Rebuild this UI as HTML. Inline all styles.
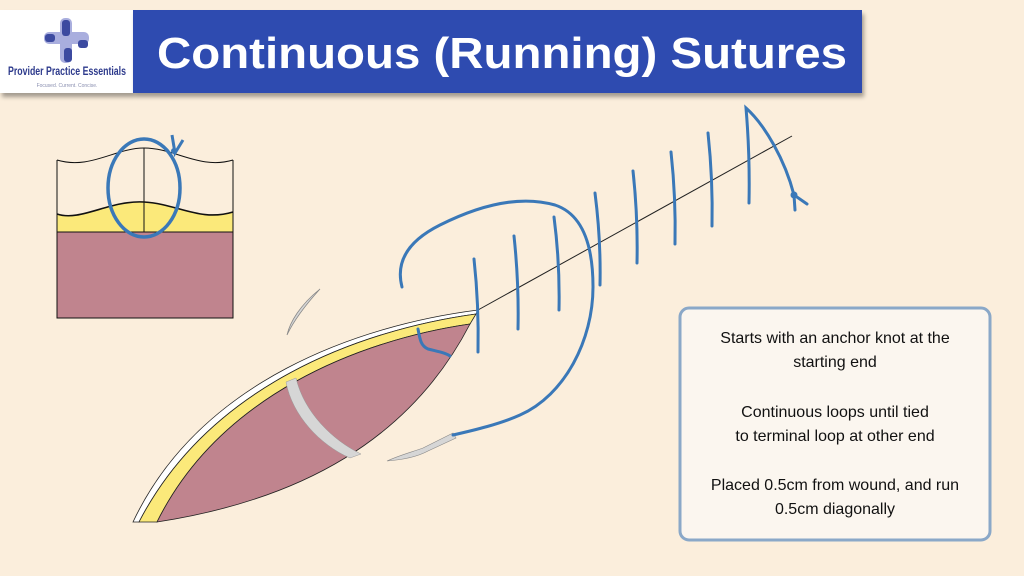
<!DOCTYPE html>
<html><head><meta charset="utf-8"><style>
html,body{margin:0;padding:0;background:#fbeedc;}
svg{display:block}
</style></head><body>
<svg width="1024" height="576" viewBox="0 0 1024 576" xmlns="http://www.w3.org/2000/svg" font-family="Liberation Sans, sans-serif">
<defs>
<filter id="sh" x="-5%" y="-20%" width="110%" height="150%"><feDropShadow dx="2" dy="4" stdDeviation="2" flood-color="#000" flood-opacity="0.35"/></filter>
</defs>
<rect width="1024" height="576" fill="#fbeedc"/>
<rect x="0" y="10" width="133" height="83" fill="#fff" filter="url(#sh)"/>
<rect x="133" y="10" width="729" height="83" fill="#2f4cb0" filter="url(#sh)"/>
<text x="157" y="68" font-size="44" font-weight="bold" fill="#fff" textLength="690" lengthAdjust="spacingAndGlyphs">Continuous (Running) Sutures</text>
<g>
<rect x="44" y="32" width="45" height="12" rx="5" fill="#a9aede"/>
<rect x="60" y="18" width="12" height="45" rx="5" fill="#a9aede"/>
<rect x="62" y="20" width="8" height="16" rx="3" fill="#3c4aa0"/>
<rect x="45" y="34" width="10" height="8" rx="3" fill="#3c4aa0"/>
<rect x="78" y="40" width="10" height="8" rx="3" fill="#3c4aa0"/>
<rect x="64" y="48" width="8" height="14" rx="3" fill="#3c4aa0"/>
</g>
<text x="67" y="75" font-size="11.5" fill="#2d3a8c" text-anchor="middle" font-weight="bold" textLength="118" lengthAdjust="spacingAndGlyphs">Provider Practice Essentials</text>
<text x="67" y="87" font-size="5" fill="#8a8fb0" text-anchor="middle">Focused. Current. Concise.</text>
<rect x="57" y="162" width="176" height="156" fill="#fbeedc"/>
<path d="M57,214 C80,222 110,200 144,202 C178,204 200,222 233,212 L233,232 L57,232 Z" fill="#fbe97a"/>
<rect x="57" y="232" width="176" height="86" fill="#c0848e" stroke="#111" stroke-width="1"/>
<path d="M57,214 C80,222 110,200 144,202 C178,204 200,222 233,212" fill="none" stroke="#111" stroke-width="1.6"/>
<path d="M57,160 C90,170 115,148 144,148 C175,148 200,170 233,160" fill="none" stroke="#111" stroke-width="1"/>
<path d="M57,160 L57,232 M233,160 L233,232 M144,148 L144,232" stroke="#111" stroke-width="1" fill="none"/>
<ellipse cx="144" cy="188" rx="36" ry="49" fill="none" stroke="#3a78b8" stroke-width="3.5"/>
<path d="M172,135 L175,153 L183,140" fill="none" stroke="#3a78b8" stroke-width="3"/>
<circle cx="174" cy="151" r="3" fill="#3a78b8"/>
<path d="M478,310 C360,325 200,380 133,522 L139,522 C210,385 360,330 476,314 Z" fill="#fff" stroke="#222" stroke-width="0.8"/>
<path d="M476,314 C360,330 210,385 139,522 L157,522 C220,395 360,340 470,324 Z" fill="#fbe97a" stroke="#222" stroke-width="0.8"/>
<path d="M470,324 C360,340 220,395 157,522 C300,500 410,440 470,324 Z" fill="#c0848e" stroke="#222" stroke-width="0.8"/>
<path d="M286,382 C292,415 320,445 350,458 L361,454 C332,440 304,412 296,378 Z" fill="#d6d6d6" stroke="#999" stroke-width="0.5"/>
<path d="M320,289 C300,305 290,322 287,335 C295,318 310,300 320,289 Z" fill="#d6d6d6" stroke="#888" stroke-width="0.8"/>
<path d="M387,461 C400,455 412,452 423,448 L453,433 L456,438 L428,451 C415,458 400,460 387,461 Z" fill="#d6d6d6" stroke="#888" stroke-width="0.6"/>
<line x1="478" y1="310" x2="792" y2="136" stroke="#222" stroke-width="1"/>
<g fill="none" stroke="#3a78b8" stroke-width="3" stroke-linecap="round">
<path d="M474,259 Q479,305 478,352"/>
<path d="M514,236 Q519,283 518,329"/>
<path d="M554,217 Q560,263 559,310"/>
<path d="M595,193 Q601,240 600,285"/>
<path d="M633,171 Q638,217 637,263"/>
<path d="M671,152 Q676,198 675,244"/>
<path d="M708,133 Q713,180 712,226"/>
<path d="M749,203 Q750,155 746,108 C765,125 785,160 794,195 L807,204"/>
<path d="M794,195 L795,210"/>
<path d="M402,287 C395,260 410,240 440,225 C480,205 520,195 555,205 C585,215 593,250 593,287 C593,340 565,395 520,415 C500,424 475,430 453,435"/>
<path d="M418,329 C420,340 421,346 428,349 C440,352 446,353 450,356"/>
</g>
<circle cx="794" cy="195" r="3.5" fill="#3a78b8"/>
<rect x="680" y="308" width="310" height="232" rx="9" fill="#fbf6ef" stroke="#8aa8c8" stroke-width="3"/>
<g font-size="16" fill="#111" text-anchor="middle">
<text x="835" y="343">Starts with an anchor knot at the</text>
<text x="835" y="367">starting end</text>
<text x="835" y="417">Continuous loops until tied</text>
<text x="835" y="441">to terminal loop at other end</text>
<text x="835" y="490">Placed 0.5cm from wound, and run</text>
<text x="835" y="514">0.5cm diagonally</text>
</g>
</svg>
</body></html>
